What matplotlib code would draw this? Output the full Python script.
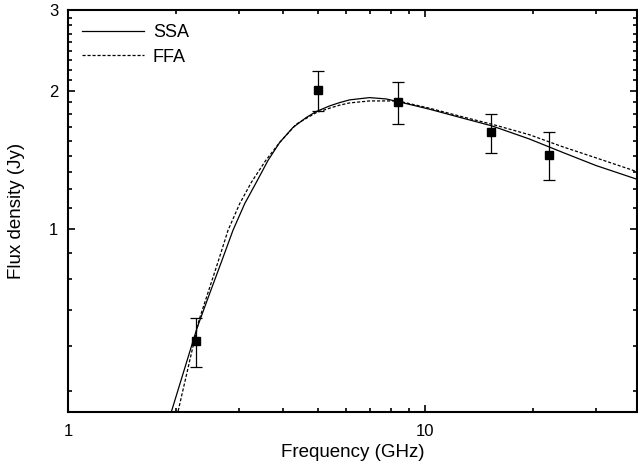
import numpy as np
import matplotlib
matplotlib.use("Agg")
from matplotlib import pyplot as plt
from matplotlib.ticker import FixedLocator, NullFormatter, FixedFormatter

plt.rcParams['font.family'] = ['Liberation Sans', 'DejaVu Sans']

# measured points
freq = [2.28, 5.0, 8.37, 15.3, 22.2]
flux = [0.57, 2.01, 1.896, 1.624, 1.453]
flux_err = [0.07, 0.20, 0.20, 0.157, 0.176]

# fitted curves
ssa_freq = [1.949, 2.297, 2.493, 2.688, 2.895, 3.122, 3.366, 3.626, 3.911, 4.259,
            4.643, 4.951, 5.393, 5.751, 6.134, 6.976, 7.767, 8.366, 10.26, 12.71,
            15.32, 19.52, 24.18, 29.99, 38.77]
ssa_flux = [0.402, 0.610, 0.726, 0.850, 0.995, 1.137, 1.266, 1.411, 1.545, 1.665,
            1.751, 1.804, 1.855, 1.886, 1.912, 1.934, 1.921, 1.896, 1.825, 1.745,
            1.679, 1.572, 1.470, 1.376, 1.287]
ffa_freq = [2.033, 2.327, 2.630, 2.804, 3.023, 3.260, 3.573, 3.911, 4.352, 4.951,
            5.393, 5.751, 6.134, 6.976, 8.366, 10.26, 12.71, 15.32, 19.52, 24.18,
            29.99, 38.77]
ffa_flux = [0.402, 0.635, 0.850, 0.995, 1.137, 1.266, 1.411, 1.545, 1.693, 1.794,
            1.834, 1.862, 1.883, 1.902, 1.902, 1.834, 1.756, 1.693, 1.606, 1.512,
            1.430, 1.337]

fig = plt.figure(figsize=(6.38, 4.66), dpi=100)
ax = fig.add_axes([0.1066, 0.1159, 0.8914, 0.8626])

ax.plot(ssa_freq, ssa_flux, color='black', lw=0.9, label='SSA')
ax.plot(ffa_freq, ffa_flux, color='black', lw=0.9, ls=(0, (2.5, 1.5)), label='FFA')
ax.errorbar(freq, flux, yerr=flux_err, fmt='s', color='black', ms=6,
            elinewidth=0.9, capsize=4, capthick=0.9)

ax.set_xscale('log')
ax.set_yscale('log')
ax.set_xlim(1, 39)
ax.set_ylim(0.4, 3)

ax.xaxis.set_major_locator(FixedLocator([1, 10]))
ax.xaxis.set_major_formatter(FixedFormatter(['1', '10']))
ax.xaxis.set_minor_locator(FixedLocator([2, 3, 4, 5, 6, 7, 8, 9, 20, 30]))
ax.xaxis.set_minor_formatter(NullFormatter())

ax.yaxis.set_major_locator(FixedLocator([1, 2, 3]))
ax.yaxis.set_major_formatter(FixedFormatter(['1', '2', '3']))
yminor = [n + k / 9 for n in (0, 1, 2) for k in range(1, 9)]
ax.yaxis.set_minor_locator(FixedLocator(yminor))
ax.yaxis.set_minor_formatter(NullFormatter())

for s in ax.spines.values():
    s.set_linewidth(1.5)
ax.tick_params(which='both', direction='in', top=True, right=True, width=1.2, labelsize=12)
ax.tick_params(which='major', length=5)
ax.tick_params(which='minor', length=3)
ax.tick_params(axis='x', which='major', pad=9)
ax.tick_params(axis='y', which='major', pad=7)

ax.set_xlabel('Frequency (GHz)', fontsize=13.5, labelpad=3)
ax.set_ylabel('Flux density (Jy)', fontsize=13.5, labelpad=17)

ax.legend(loc='upper left', frameon=False, fontsize=13, handlelength=3.4,
          borderaxespad=0.4, labelspacing=0.4, handletextpad=0.5)

fig.savefig('out.png', dpi=100)
